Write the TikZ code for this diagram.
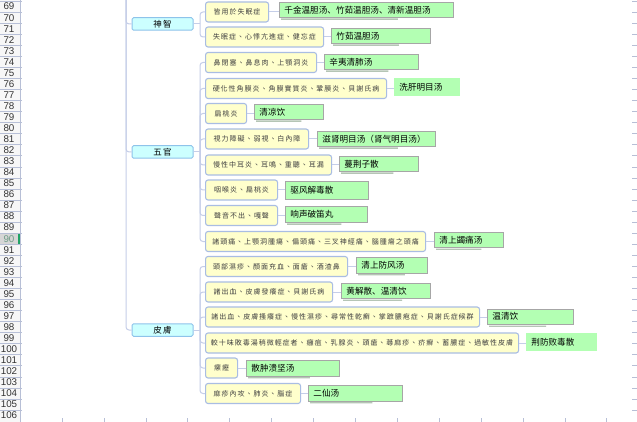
\documentclass[tikz,border=0pt]{standalone}
\usepackage{fontspec}
\usetikzlibrary{calc}
\setmainfont{Liberation Sans}
\newfontfamily\yfont[LetterSpace=14]{Noto Sans CJK TC}
\newfontfamily\gfont{Noto Sans CJK SC}
\newfontfamily\cfont[LetterSpace=15]{Noto Sans CJK TC}
\definecolor{ylw}{HTML}{FFFFCC}
\definecolor{yb}{HTML}{A9BDE3}
\definecolor{ytxt}{HTML}{404040}
\definecolor{grn}{HTML}{B3FFB3}
\definecolor{gb}{HTML}{A6A6A6}
\definecolor{cyn}{HTML}{CCFFFF}
\definecolor{cb}{HTML}{8EC3EA}
\definecolor{connc}{HTML}{C5CEE8}
\definecolor{gridc}{HTML}{B7BFD6}
\definecolor{gshc}{HTML}{B5C5B5}
\definecolor{hdr}{HTML}{F7F7F7}
\definecolor{selbg}{HTML}{D6D6D6}
\definecolor{selbar}{HTML}{21A366}
\definecolor{seltxt}{HTML}{6E9C86}
\newcommand\gsh[1]{\draw[gshc,line width=1.4pt] ([xshift=2pt,yshift=-1.4pt]#1.south west) -- ([yshift=-1.4pt]$(#1.south west)!0.68!(#1.south east)$);}
\begin{document}
\begin{tikzpicture}[x=1pt,y=-1pt,
  ybox/.style={draw=yb, fill=ylw, line width=1.1pt, rounded corners=2.5pt, minimum height=20pt, inner sep=0pt, anchor=west, text=ytxt, font=\yfont\fontsize{7}{8}\selectfont},
  gbox/.style={draw=gb, fill=grn, line width=0.8pt, inner xsep=5pt, inner ysep=0pt, align=left, anchor=north west, font=\gfont\fontsize{8.6}{10}\selectfont},
  gflat/.style={gbox, draw=none},
  cbox/.style={draw=cb, fill=cyn, line width=1pt, rounded corners=1.5pt, minimum width=61pt, minimum height=12.5pt, inner sep=0pt, font=\cfont\fontsize{8.5}{10}\selectfont},
  conn/.style={draw=connc, line width=1pt},
  num/.style={font=\fontsize{9.8}{11}\selectfont, text=black!80, inner sep=0pt}]
\useasboundingbox (0,0) rectangle (637,422);
\fill[white] (0,0) rectangle (637,422);
% row header
\fill[hdr] (0,0) rectangle (20,422);
\fill[selbg] (0,233.05) rectangle (18,244.1);
\fill[selbar] (18,233.05) rectangle (20.5,244.1);
\foreach \k in {0,...,37} {
  \draw[gridc] (0,{1+11.05*\k}) -- (22,{1+11.05*\k});
  \draw[gridc] (632,{1+11.05*\k}) -- (637,{1+11.05*\k});
}
\draw[gridc] (20,0) -- (20,422);
\foreach \k in {1,...,14} \draw[gridc] ({20+41.9*\k},418) -- ({20+41.9*\k},422);
\foreach \n in {69,...,89} \node[num] at (9,{6.6+11.05*(\n-69)}) {\n};
\node[num, text=seltxt] at (9,{6.6+11.05*21}) {90};
\foreach \n in {91,...,106} \node[num] at (9,{6.6+11.05*(\n-69)}) {\n};

% categories
\node[cbox] (c1) at (162.5,24) {神智};
\node[cbox] (c2) at (162.5,152) {五官};
\node[cbox] (c3) at (162.5,330) {皮膚};

% yellow boxes
\node[ybox, minimum width=63pt] (a1) at (205,12) {皆用於失眠症};
\node[ybox, minimum width=118pt] (a2) at (205,37) {失眠症、心悸亢進症、健忘症};
\node[ybox, minimum width=111pt] (a3) at (205,62.5) {鼻閉塞、鼻息肉、上顎洞炎};
\node[ybox, minimum width=181pt] (a4) at (205,88.5) {硬化性角膜炎、角膜實質炎、鞏膜炎、貝謝氏病};
\node[ybox, minimum width=41pt] (a5) at (205,113.5) {扁桃炎};
\node[ybox, minimum width=103pt] (a6) at (205,139) {視力障礙、弱視、白內障};
\node[ybox, minimum width=126pt] (a7) at (205,165) {慢性中耳炎、耳鳴、重聽、耳漏};
\node[ybox, minimum width=72pt] (a8) at (205,190) {咽喉炎、扁桃炎};
\node[ybox, minimum width=72pt] (a9) at (205,215.5) {聲音不出、嘎聲};
\node[ybox, minimum width=220pt] (a10) at (205,241.5) {諸頭痛、上顎洞腫瘍、偏頭痛、三叉神經痛、腦腫瘍之頭痛};
\node[ybox, minimum width=142pt] (a11) at (205,266.5) {頭部濕疹、顏面充血、面瘡、酒渣鼻};
\node[ybox, minimum width=127pt] (a12) at (205,292) {諸出血、皮膚發癢症、貝謝氏病};
\node[ybox, minimum width=274pt] (a13) at (205,317) {諸出血、皮膚搔癢症、慢性濕疹、尋常性乾癬、掌蹠膿疱症、貝謝氏症候群};
\node[ybox, minimum width=313pt] (a14) at (205,343) {較十味敗毒湯稍微輕症者、癰疽、乳腺炎、頭瘡、蕁麻疹、疥癬、蓄膿症、過敏性皮膚};
\node[ybox, minimum width=32pt] (a15) at (205,368) {瘰癧};
\node[ybox, minimum width=95pt] (a16) at (205,393.5) {麻疹內攻、肺炎、腦症};

% green boxes
\node[gbox, text width=164pt, minimum height=14.5pt] (g1) at (279,2.5) {千金温胆汤、竹茹温胆汤、清新温胆汤};
\node[gbox, text width=89pt, minimum height=15pt] (g2) at (331,28) {竹茹温胆汤};
\node[gbox, text width=84pt, minimum height=15pt] (g3) at (324,54) {辛夷清肺汤};
\node[gflat, text width=56pt, minimum height=18pt] (g4) at (394,78) {洗肝明目汤};
\node[gbox, text width=59pt, minimum height=15pt] (g5) at (254,104) {清凉饮};
\node[gbox, text width=108pt, minimum height=15pt] (g6) at (317,131) {滋肾明目汤（肾气明目汤）};
\node[gbox, text width=69pt, minimum height=15pt] (g7) at (339,156) {蔓荆子散};
\node[gbox, text width=73pt, minimum height=18pt] (g8) at (285,181) {驱风解毒散};
\node[gbox, text width=72pt, minimum height=16pt] (g9) at (285,206) {响声破笛丸};
\node[gbox, text width=59pt, minimum height=15pt] (g10) at (434,232) {清上蠲痛汤};
\node[gbox, text width=61pt, minimum height=15.5pt] (g11) at (356,257) {清上防风汤};
\node[gbox, text width=79pt, minimum height=15pt] (g12) at (341,283) {黄解散、温清饮};
\node[gbox, text width=76pt, minimum height=15.5pt] (g13) at (487,308.5) {温清饮};
\node[gflat, text width=61pt, minimum height=18pt] (g14) at (526,333) {荆防败毒散};
\node[gbox, text width=83pt, minimum height=15.5pt] (g15) at (246,360) {散肿溃坚汤};
\node[gbox, text width=84pt, minimum height=15.5pt] (g16) at (308,385) {二仙汤};

% shadows of green boxes
\foreach \g in {g1,g2,g3,g5,g6,g7,g9,g10,g11,g12,g13,g15,g16} {\gsh{\g}}

% trunk
\coordinate (top) at (126,0);
\foreach \c in {c1,c2,c3} \draw[conn, rounded corners=3pt] (top) |- (\c.west);

% category junctions
\coordinate (j1) at (200,24);
\coordinate (j2) at (200,152);
\coordinate (j3) at (200,330);
\draw[conn] (c1.east) -- (j1);
\draw[conn] (c2.east) -- (j2);
\draw[conn] (c3.east) -- (j3);
\foreach \a in {a1,a2} \draw[conn, rounded corners=3pt] (j1) |- (\a.west);
\foreach \a in {a3,a4,a5,a6,a7,a8,a9,a10} \draw[conn, rounded corners=3pt] (j2) |- (\a.west);
\foreach \a in {a11,a12,a13,a14,a15,a16} \draw[conn, rounded corners=3pt] (j3) |- (\a.west);

% yellow to green
\foreach \i in {1,...,16} \draw[conn] (a\i.east) -- (a\i.east -| g\i.west);
\end{tikzpicture}
\end{document}
